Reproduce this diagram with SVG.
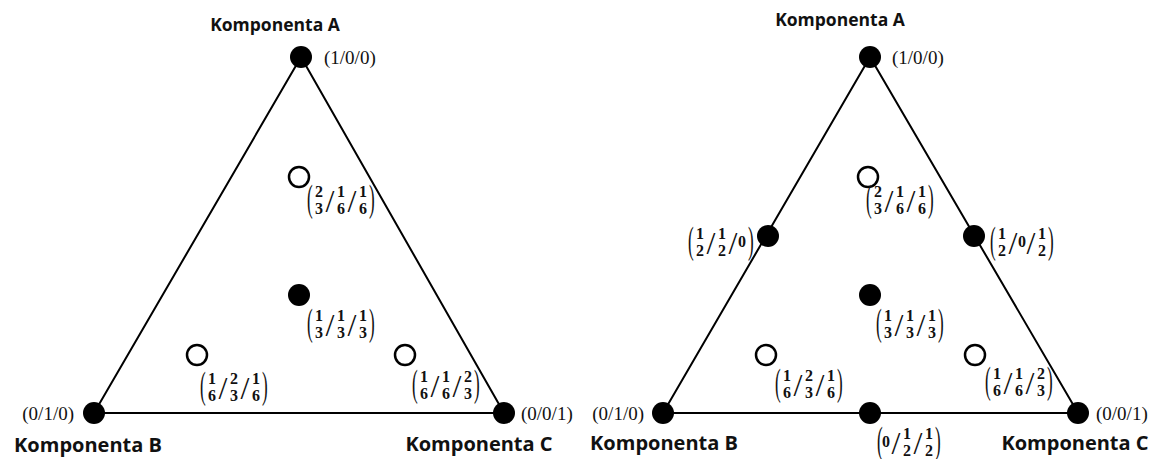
<svg xmlns="http://www.w3.org/2000/svg" width="1153" height="459" viewBox="0 0 1153 459">
<style>
.edge{stroke:#000;stroke-width:2;fill:none}
.full{fill:#000}
.open{fill:#fff;stroke:#000;stroke-width:2.5}
.title{font-family:"Open Sans","DejaVu Sans",sans-serif;font-weight:bold;font-size:17.5px;fill:#111;text-anchor:middle}
.big{font-size:20px}
.coord{font-family:"Liberation Serif",serif;font-size:19px;fill:#111}
.n{font-family:"Liberation Serif",serif;font-weight:bold;font-size:16px;fill:#111;text-anchor:middle}
.p{font-family:"Liberation Serif",serif;font-size:38px;fill:#111}
.s{font-family:"Liberation Serif",serif;font-size:32px;fill:#111;text-anchor:middle}
</style>
<rect width="1153" height="459" fill="#fff"/>
<g id="connectors">
<polygon class="edge" points="301,57 94,413 504,413"/>
<polygon class="edge" points="870,57 663,413 1078,413"/>
</g>
<g id="left">
<g id="L-A"><circle class="full" cx="301" cy="57" r="11"/><text class="title" x="275" y="31">Komponenta A</text><text class="coord" x="324" y="64">(1/0/0)</text></g>
<g id="L-B"><circle class="full" cx="94" cy="413" r="11"/><text class="coord" x="74" y="420" text-anchor="end">(0/1/0)</text><text class="title big" x="88" y="452">Komponenta B</text></g>
<g id="L-C"><circle class="full" cx="504" cy="413" r="11"/><text class="coord" x="521" y="420">(0/0/1)</text><text class="title big" x="479" y="451">Komponenta C</text></g>
<g id="L-211"><circle class="open" cx="299" cy="177" r="10"/>
<g transform="translate(307,201)"><text class="p" transform="translate(0,10) scale(0.45,1)">(</text><text class="n" x="12" y="-4">2</text><text class="n" x="12" y="13">3</text><text class="s" x="23" y="11">/</text><text class="n" x="34" y="-4">1</text><text class="n" x="34" y="13">6</text><text class="s" x="45" y="11">/</text><text class="n" x="56" y="-4">1</text><text class="n" x="56" y="13">6</text><text class="p" transform="translate(62,10) scale(0.45,1)">)</text></g></g>
<g id="L-111"><circle class="full" cx="299" cy="295" r="11"/>
<g transform="translate(307,325)"><text class="p" transform="translate(0,10) scale(0.45,1)">(</text><text class="n" x="12" y="-4">1</text><text class="n" x="12" y="13">3</text><text class="s" x="23" y="11">/</text><text class="n" x="34" y="-4">1</text><text class="n" x="34" y="13">3</text><text class="s" x="45" y="11">/</text><text class="n" x="56" y="-4">1</text><text class="n" x="56" y="13">3</text><text class="p" transform="translate(62,10) scale(0.45,1)">)</text></g></g>
<g id="L-121"><circle class="open" cx="197" cy="355" r="10"/>
<g transform="translate(200,388)"><text class="p" transform="translate(0,10) scale(0.45,1)">(</text><text class="n" x="12" y="-4">1</text><text class="n" x="12" y="13">6</text><text class="s" x="23" y="11">/</text><text class="n" x="34" y="-4">2</text><text class="n" x="34" y="13">3</text><text class="s" x="45" y="11">/</text><text class="n" x="56" y="-4">1</text><text class="n" x="56" y="13">6</text><text class="p" transform="translate(62,10) scale(0.45,1)">)</text></g></g>
<g id="L-112"><circle class="open" cx="405" cy="355" r="10"/>
<g transform="translate(412,386)"><text class="p" transform="translate(0,10) scale(0.45,1)">(</text><text class="n" x="12" y="-4">1</text><text class="n" x="12" y="13">6</text><text class="s" x="23" y="11">/</text><text class="n" x="34" y="-4">1</text><text class="n" x="34" y="13">6</text><text class="s" x="45" y="11">/</text><text class="n" x="56" y="-4">2</text><text class="n" x="56" y="13">3</text><text class="p" transform="translate(62,10) scale(0.45,1)">)</text></g></g>
</g>
<g id="right">
<g id="R-A"><circle class="full" cx="870" cy="57" r="11"/><text class="title" x="840" y="26">Komponenta A</text><text class="coord" x="892" y="64">(1/0/0)</text></g>
<g id="R-B"><circle class="full" cx="663" cy="413" r="11"/><text class="coord" x="644" y="420" text-anchor="end">(0/1/0)</text><text class="title big" x="664" y="450">Komponenta B</text></g>
<g id="R-C"><circle class="full" cx="1078" cy="413" r="11"/><text class="coord" x="1096" y="420">(0/0/1)</text><text class="title big" x="1075" y="450">Komponenta C</text></g>
<g id="R-AB"><circle class="full" cx="768" cy="236" r="11"/>
<g transform="translate(688,243)"><text class="p" transform="translate(0,10) scale(0.45,1)">(</text><text class="n" x="12" y="-4">1</text><text class="n" x="12" y="13">2</text><text class="s" x="23" y="11">/</text><text class="n" x="34" y="-4">1</text><text class="n" x="34" y="13">2</text><text class="s" x="45" y="11">/</text><text class="n" x="54" y="4">0</text><text class="p" transform="translate(60,10) scale(0.45,1)">)</text></g></g>
<g id="R-AC"><circle class="full" cx="974" cy="236" r="11"/>
<g transform="translate(990,243)"><text class="p" transform="translate(0,10) scale(0.45,1)">(</text><text class="n" x="12" y="-4">1</text><text class="n" x="12" y="13">2</text><text class="s" x="23" y="11">/</text><text class="n" x="32" y="4">0</text><text class="s" x="41" y="11">/</text><text class="n" x="52" y="-4">1</text><text class="n" x="52" y="13">2</text><text class="p" transform="translate(58,10) scale(0.45,1)">)</text></g></g>
<g id="R-BC"><circle class="full" cx="870" cy="413" r="11"/>
<g transform="translate(877,443)"><text class="p" transform="translate(0,10) scale(0.45,1)">(</text><text class="n" x="9" y="4">0</text><text class="s" x="19" y="11">/</text><text class="n" x="30" y="-4">1</text><text class="n" x="30" y="13">2</text><text class="s" x="41" y="11">/</text><text class="n" x="52" y="-4">1</text><text class="n" x="52" y="13">2</text><text class="p" transform="translate(58,10) scale(0.45,1)">)</text></g></g>
<g id="R-211"><circle class="open" cx="868" cy="177" r="10"/>
<g transform="translate(866,201)"><text class="p" transform="translate(0,10) scale(0.45,1)">(</text><text class="n" x="12" y="-4">2</text><text class="n" x="12" y="13">3</text><text class="s" x="23" y="11">/</text><text class="n" x="34" y="-4">1</text><text class="n" x="34" y="13">6</text><text class="s" x="45" y="11">/</text><text class="n" x="56" y="-4">1</text><text class="n" x="56" y="13">6</text><text class="p" transform="translate(62,10) scale(0.45,1)">)</text></g></g>
<g id="R-111"><circle class="full" cx="870" cy="295" r="11"/>
<g transform="translate(876,325)"><text class="p" transform="translate(0,10) scale(0.45,1)">(</text><text class="n" x="12" y="-4">1</text><text class="n" x="12" y="13">3</text><text class="s" x="23" y="11">/</text><text class="n" x="34" y="-4">1</text><text class="n" x="34" y="13">3</text><text class="s" x="45" y="11">/</text><text class="n" x="56" y="-4">1</text><text class="n" x="56" y="13">3</text><text class="p" transform="translate(62,10) scale(0.45,1)">)</text></g></g>
<g id="R-121"><circle class="open" cx="766" cy="355" r="10"/>
<g transform="translate(775,385)"><text class="p" transform="translate(0,10) scale(0.45,1)">(</text><text class="n" x="12" y="-4">1</text><text class="n" x="12" y="13">6</text><text class="s" x="23" y="11">/</text><text class="n" x="34" y="-4">2</text><text class="n" x="34" y="13">3</text><text class="s" x="45" y="11">/</text><text class="n" x="56" y="-4">1</text><text class="n" x="56" y="13">6</text><text class="p" transform="translate(62,10) scale(0.45,1)">)</text></g></g>
<g id="R-112"><circle class="open" cx="975" cy="355" r="10"/>
<g transform="translate(985,383)"><text class="p" transform="translate(0,10) scale(0.45,1)">(</text><text class="n" x="12" y="-4">1</text><text class="n" x="12" y="13">6</text><text class="s" x="23" y="11">/</text><text class="n" x="34" y="-4">1</text><text class="n" x="34" y="13">6</text><text class="s" x="45" y="11">/</text><text class="n" x="56" y="-4">2</text><text class="n" x="56" y="13">3</text><text class="p" transform="translate(62,10) scale(0.45,1)">)</text></g></g>
</g>
</svg>
